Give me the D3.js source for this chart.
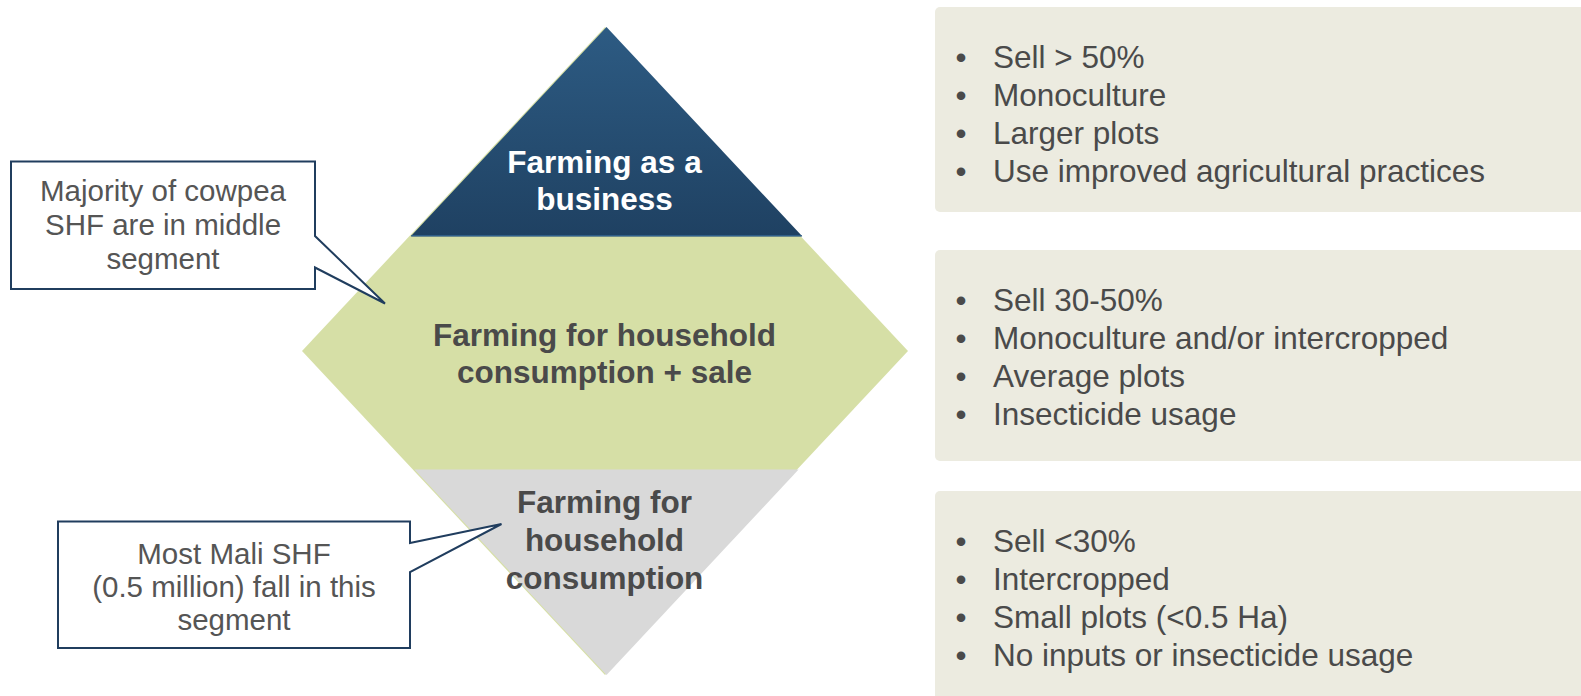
<!DOCTYPE html>
<html lang="en">
<head>
	<meta charset="UTF-8">
	<title>farmer segments</title>
	<script src="https://cdn.jsdelivr.net/npm/d3@7"></script>
	<style>
	body {
		margin: 0;
		background: #fff;
	}
	svg text {
		font-family: "Liberation Sans", Arial, sans-serif;
	}
	.seg-label {
		font-weight: bold;
		font-size: 31.5px;
		text-anchor: middle;
	}
	.trait {
		font-size: 31.5px;
		fill: #4a4a4a;
	}
	.note {
		font-size: 29.5px;
		fill: #555;
		text-anchor: middle;
	}
	.callout {
		fill: #fff;
		stroke: #203d5e;
		stroke-width: 2px;
		stroke-linejoin: miter;
	}
	</style>
</head>
<body>
	<svg id="svg" width="1581" height="696"></svg>

	<script>
	// segments, from top of the diamond to the bottom
	var segments = ["Farming as a business", "Farming for household consumption + sale", "Farming for household consumption"];
	var segmentLines = [
		["Farming as a", "business"],
		["Farming for household", "consumption + sale"],
		["Farming for", "household", "consumption"]
	];
	// where each segment starts/ends, as share of the diamond height
	var segmentBreaks = [0, 0.323, 0.683, 1];

	var traits = [
		["Sell > 50%", "Monoculture", "Larger plots", "Use improved agricultural practices"],
		["Sell 30-50%", "Monoculture and/or intercropped", "Average plots", "Insecticide usage"],
		["Sell <30%", "Intercropped", "Small plots (<0.5 Ha)", "No inputs or insecticide usage"]
	];

	var callouts = [
		["Majority of cowpea", "SHF are in middle", "segment"],
		["Most Mali SHF", "(0.5 million) fall in this", "segment"]
	];

	var svg = d3.select('svg');

	// diamond geometry
	var y = d3.scaleLinear().domain([0, 1]).range([27, 675]);
	var x = d3.scaleLinear().domain([-1, 1]).range([302, 908]);
	var halfW = function (t) { return 1 - Math.abs(2 * t - 1); };

	var defs = svg.append('defs');
	var grad = defs.append('linearGradient')
		.attr('id', 'blueGrad')
		.attr('x1', 0).attr('y1', 0).attr('x2', 0).attr('y2', 1);
	grad.append('stop').attr('offset', '0%').attr('stop-color', '#2d5b83');
	grad.append('stop').attr('offset', '100%').attr('stop-color', '#1f4162');

	// green diamond underneath
	svg.append('path')
		.attr('d', 'M' + x(0) + ',' + y(0) + 'L' + x(1) + ',' + y(0.5) + 'L' + x(0) + ',' + y(1) + 'L' + x(-1) + ',' + y(0.5) + 'Z')
		.attr('fill', '#d6dfa6');

	// top triangle
	var b1 = segmentBreaks[1];
	svg.append('path')
		.attr('transform', 'translate(1.5,0)')
		.attr('d', 'M' + x(0) + ',' + y(0) + 'L' + x(halfW(b1)) + ',' + y(b1) + 'L' + x(-halfW(b1)) + ',' + y(b1) + 'Z')
		.attr('fill', 'url(#blueGrad)');
	svg.append('line')
		.attr('x1', x(-halfW(b1)) + 2).attr('x2', x(halfW(b1)) + 1)
		.attr('y1', y(b1) - 0.5).attr('y2', y(b1) - 0.5)
		.attr('stroke', '#2f5e88').attr('stroke-width', 1.5);

	// bottom triangle
	var b2 = segmentBreaks[2];
	svg.append('path')
		.attr('transform', 'translate(1.5,0)')
		.attr('d', 'M' + x(-halfW(b2)) + ',' + y(b2) + 'L' + x(halfW(b2)) + ',' + y(b2) + 'L' + x(0) + ',' + y(1) + 'Z')
		.attr('fill', '#d9d9d9');

	// segment labels
	var labelBase = [173, 345.5, 513];
	var labelStep = [36.5, 37.5, 38];
	var labelColor = ['#fff', '#4a4a4a', '#4a4a4a'];
	segmentLines.forEach(function (lines, i) {
		var t = svg.append('text')
			.attr('class', 'seg-label')
			.attr('fill', labelColor[i])
			.attr('aria-label', segments[i]);
		lines.forEach(function (ln, j) {
			t.append('tspan')
				.attr('x', x(0) - 0.5)
				.attr('y', labelBase[i] + j * labelStep[i])
				.text(ln);
		});
	});

	// trait boxes on the right
	var boxTop = [7, 250, 491];
	var boxBottom = [212, 461, 702];
	traits.forEach(function (list, i) {
		var g = svg.append('g');
		g.append('rect')
			.attr('x', 935).attr('y', boxTop[i])
			.attr('width', 700).attr('height', boxBottom[i] - boxTop[i])
			.attr('rx', 5)
			.attr('fill', '#ecebe0');
		list.forEach(function (item, j) {
			var by = boxTop[i] + 61 + j * 38;
			g.append('text')
				.attr('class', 'trait')
				.attr('x', 961).attr('y', by)
				.attr('text-anchor', 'middle')
				.text('\u2022');
			g.append('text')
				.attr('class', 'trait')
				.attr('x', 993).attr('y', by)
				.text(item);
		});
	});

	// callouts
	var calloutPaths = [
		'M11,161.5 H315 V236 L385,303.5 L315,267.5 V289 H11 Z',
		'M58,521.5 H410 V543 L501.5,524 L410,572 V648 H58 Z'
	];
	var calloutCx = [163, 234];
	var calloutBase = [201, 564];
	var calloutStep = [34, 33];
	calloutPaths.forEach(function (d, i) {
		svg.append('path').attr('class', 'callout').attr('d', d);
		var t = svg.append('text').attr('class', 'note');
		callouts[i].forEach(function (ln, j) {
			t.append('tspan')
				.attr('x', calloutCx[i])
				.attr('y', calloutBase[i] + j * calloutStep[i])
				.text(ln);
		});
	});
	</script>
</body>
</html>
